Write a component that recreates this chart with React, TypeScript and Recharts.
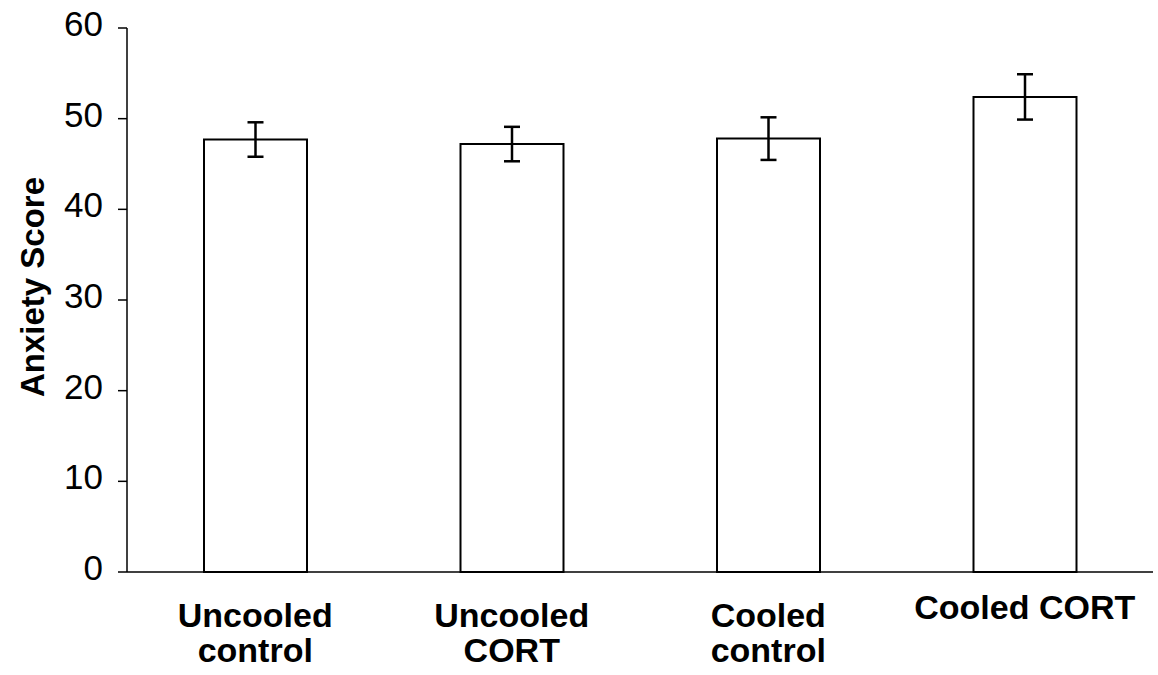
import React from 'react'
import { BarChart, Bar, XAxis, YAxis, ErrorBar, Label } from 'recharts'

const GROUPS = ['Uncooled control', 'Uncooled CORT', 'Cooled control', 'Cooled CORT']
const GROUP_LINES = [['Uncooled', 'control'], ['Uncooled', 'CORT'], ['Cooled', 'control'], ['Cooled CORT']]
const MEANS = [47.7, 47.2, 47.8, 52.4]
const ERRORS = [1.9, 1.9, 2.35, 2.5]
const Y_TICKS = [0, 10, 20, 30, 40, 50, 60]

const data = GROUPS.map((name, i) => ({ name, score: MEANS[i], err: ERRORS[i] }))

const FONT = '"Liberation Sans", Arial, sans-serif'

// multi-line category label, single-line ones sit a bit higher like the original
function XTick(props: any) {
    const { x, payload, index } = props
    const lines = GROUP_LINES[index] || [payload.value]
    const top = lines.length === 1 ? 619 : 627
    return (
        <g>
            {lines.map((ln: string, i: number) => (
                <text
                    key={i}
                    x={x}
                    y={top + i * 35}
                    textAnchor="middle"
                    fontFamily={FONT}
                    fontWeight="bold"
                    fontSize={34}
                    fill="#000"
                >
                    {ln}
                </text>
            ))}
        </g>
    )
}

function YTick(props: any) {
    const { x, y, payload } = props
    return (
        <text x={x} y={y + 8} textAnchor="end" fontFamily={FONT} fontSize={35} fill="#000">
            {payload.value}
        </text>
    )
}

export default function App() {
    return (
        <div style={{ position: 'absolute', left: 0, top: 0, background: '#fff' }}>
            <BarChart
                width={1158}
                height={675}
                data={data}
                margin={{ top: 28, right: 5, left: 0, bottom: 0 }}
            >
                <XAxis
                    dataKey="name"
                    height={103}
                    tickLine={false}
                    axisLine={{ stroke: '#000', strokeWidth: 1.5 }}
                    tick={<XTick />}
                    interval={0}
                />
                <YAxis
                    width={127}
                    domain={[0, 60]}
                    ticks={Y_TICKS}
                    interval={0}
                    tickSize={9}
                    tickMargin={15}
                    axisLine={{ stroke: '#000', strokeWidth: 1.5 }}
                    tickLine={{ stroke: '#000', strokeWidth: 1.5 }}
                    tick={<YTick />}
                >
                    <Label
                        content={() => (
                            <text
                                x={44}
                                y={287}
                                transform="rotate(-90 44 287)"
                                textAnchor="middle"
                                fontFamily={FONT}
                                fontWeight="bold"
                                fontSize={33}
                                fill="#000"
                            >
                                Anxiety Score
                            </text>
                        )}
                    />
                </YAxis>
                <Bar dataKey="score" fill="#fff" stroke="#000" strokeWidth={2} barSize={103} isAnimationActive={false}>
                    <ErrorBar dataKey="err" width={8} stroke="#000" strokeWidth={2.5} direction="y" />
                </Bar>
            </BarChart>
        </div>
    )
}
